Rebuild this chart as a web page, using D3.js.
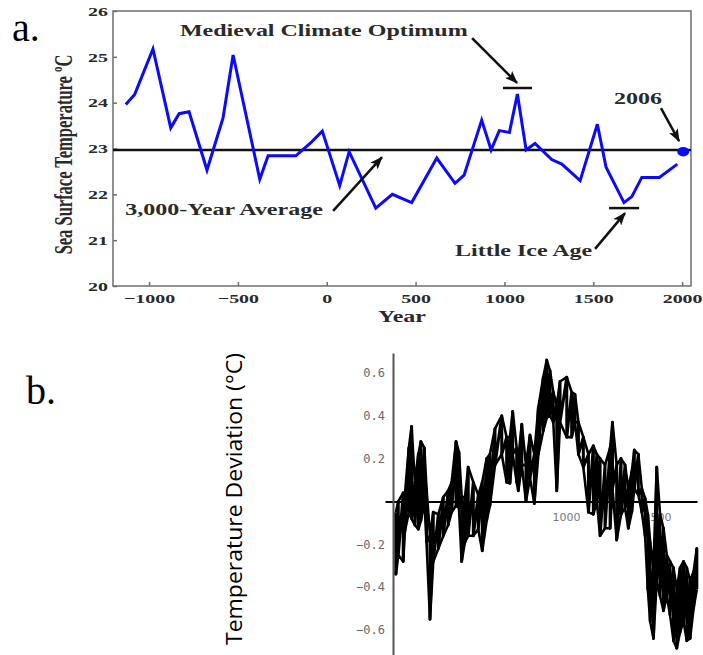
<!DOCTYPE html>
<html>
<head>
<meta charset="utf-8">
<script src="https://cdn.jsdelivr.net/npm/d3@7"></script>
<style>
  html, body { margin: 0; padding: 0; background: #fff; }
  svg { display: block; }
</style>
</head>
<body>
<svg id="chart" width="703" height="655"></svg>
<script>
// panel a: sea surface temperature, 3000 years
const sstYears = [-1131, -1081, -978, -878, -831, -775, -674, -584, -527, -377, -330, -174, -94, -25, 73, 126, 276, 369, 478, 619, 722, 773, 872, 925, 971, 1028, 1073, 1122, 1172, 1266, 1323, 1426, 1523, 1572, 1673, 1717, 1773, 1872, 1973]
const sstTemps = [23.96, 24.18, 25.17, 23.45, 23.76, 23.80, 22.53, 23.66, 25.04, 22.33, 22.84, 22.84, 23.11, 23.38, 22.19, 22.93, 21.70, 22.00, 21.82, 22.79, 22.24, 22.42, 23.62, 22.97, 23.39, 23.35, 24.19, 22.97, 23.11, 22.76, 22.66, 22.30, 23.53, 22.59, 21.82, 21.95, 22.37, 22.37, 22.66]
const sstAverage = 22.97
const sstLatest = { year: 2006, temp: 22.93 }
const sstXTicks = [-1000, -500, 0, 500, 1000, 1500, 2000]
const sstYTicks = [20, 21, 22, 23, 24, 25, 26]

// panel b: temperature deviation, upper and lower edge of the bundle of curves
const devYears = [66, 79, 106, 115, 137, 152, 170, 189, 203, 222, 234, 253, 271, 299, 326, 353, 372, 396, 412, 427, 445, 463, 491, 518, 540, 564, 582, 610, 647, 674, 692, 707, 729, 738, 757, 780, 802, 826, 848, 875, 894, 912, 930, 949, 967, 1004, 1031, 1049, 1068, 1095, 1123, 1150, 1169, 1187, 1214, 1242, 1255, 1278, 1302, 1324, 1342, 1361, 1375, 1397, 1416, 1434, 1449, 1462, 1480, 1498, 1516, 1535, 1553, 1571, 1590, 1608, 1626, 1645, 1663, 1681, 1700, 1718]
const devHigh = [-0.05, 0.00, 0.04, 0.03, 0.25, 0.35, 0.09, 0.22, 0.28, 0.25, 0.06, -0.16, -0.05, -0.06, 0.02, 0.05, 0.09, 0.28, 0.23, 0.02, 0.02, 0.16, 0.09, 0.03, 0.09, 0.20, 0.22, 0.34, 0.40, 0.30, 0.30, 0.42, 0.25, 0.20, 0.36, 0.17, 0.31, 0.22, 0.44, 0.58, 0.66, 0.61, 0.51, 0.45, 0.56, 0.58, 0.51, 0.50, 0.37, 0.30, 0.22, 0.26, 0.22, 0.20, 0.17, 0.25, 0.37, 0.17, 0.20, 0.17, 0.06, 0.14, 0.24, 0.22, 0.06, 0.015, -0.06, -0.19, -0.31, 0.16, -0.06, -0.125, -0.25, -0.28, -0.31, -0.41, -0.31, -0.28, -0.31, -0.37, -0.33, -0.22]
const devLow = [-0.34, -0.25, -0.28, -0.14, -0.05, -0.08, -0.11, -0.13, -0.09, 0.00, -0.19, -0.55, -0.28, -0.22, -0.16, -0.11, -0.05, -0.02, -0.03, -0.28, -0.19, -0.16, -0.16, -0.13, -0.23, -0.09, -0.02, 0.17, 0.22, 0.09, 0.085, 0.22, 0.09, 0.05, 0.17, 0.00, 0.11, -0.01, 0.22, 0.33, 0.39, 0.40, 0.37, 0.05, 0.37, 0.30, 0.30, 0.37, 0.22, 0.16, -0.05, -0.06, 0.00, -0.16, -0.125, -0.125, 0.06, -0.18, -0.06, -0.03, -0.125, -0.05, 0.06, 0.03, -0.05, -0.16, -0.41, -0.56, -0.64, -0.37, -0.44, -0.51, -0.44, -0.53, -0.65, -0.685, -0.61, -0.56, -0.65, -0.64, -0.50, -0.41]
const devYTicks = [-0.6, -0.4, -0.2, 0.2, 0.4, 0.6]
const devXTicks = [500, 1000, 1500]

const svg = d3.select('#chart')
const SERIF = '"Liberation Serif", "Times New Roman", serif'
const STRETCH = 1.5 // panel a text is drawn wide in the source

svg.append('defs').append('marker')
  .attr('id', 'arrow')
  .attr('markerUnits', 'userSpaceOnUse')
  .attr('markerWidth', 14)
  .attr('markerHeight', 10)
  .attr('refX', 12)
  .attr('refY', 5)
  .attr('orient', 'auto')
  .append('path')
  .attr('d', 'M0,0 L13,5 L0,10 L3,5 z')
  .attr('fill', '#111')

const drawPanelA = () => {
  const x = d3.scaleLinear().domain([-1203, 2050]).range([113, 691])
  const y = d3.scaleLinear().domain([20, 26]).range([286, 11])
  const g = svg.append('g')

  const xAxis = g.append('g')
    .attr('transform', `translate(0,${y(20)})`)
    .call(d3.axisBottom(x).tickValues(sstXTicks).tickFormat(d3.format('d')).tickSizeInner(-4).tickSizeOuter(0).tickPadding(7.5))
  const yAxis = g.append('g')
    .attr('transform', `translate(${x.range()[0]},0)`)
    .call(d3.axisLeft(y).tickValues(sstYTicks).tickFormat(d3.format('d')).tickSizeInner(-4).tickSizeOuter(0).tickPadding(3.4))

  ;[xAxis, yAxis].forEach((ax) => {
    ax.select('.domain').remove()
    ax.selectAll('line').attr('stroke', '#6e6e6e').attr('stroke-width', 1.5)
    ax.selectAll('text')
      .attr('font-family', SERIF)
      .attr('font-weight', 'bold')
      .attr('font-size', 13.3)
      .attr('fill', '#2a2a2a')
      .attr('transform', `scale(${STRETCH},1)`)
  })

  g.append('rect')
    .attr('x', x.range()[0])
    .attr('y', y.range()[1])
    .attr('width', x.range()[1] - x.range()[0])
    .attr('height', y.range()[0] - y.range()[1])
    .attr('fill', 'none')
    .attr('stroke', '#6e6e6e')
    .attr('stroke-width', 1.5)

  // 3000 year average
  g.append('line')
    .attr('x1', x.range()[0]).attr('x2', x.range()[1])
    .attr('y1', y(sstAverage)).attr('y2', y(sstAverage))
    .attr('stroke', '#111').attr('stroke-width', 2.5)

  const line = d3.line().x((d, i) => x(sstYears[i])).y((d) => y(d))
  g.append('path')
    .datum(sstTemps)
    .attr('d', line)
    .attr('fill', 'none')
    .attr('stroke', '#0a0aff')
    .attr('stroke-width', 3)
    .attr('stroke-linejoin', 'miter')

  g.append('ellipse')
    .attr('cx', x(sstLatest.year)).attr('cy', y(sstLatest.temp))
    .attr('rx', 6).attr('ry', 4.8)
    .attr('fill', '#0a0aff')

  // annotations, placed in data units
  const label = (text, yr, t) => {
    g.append('text')
      .attr('transform', `translate(${x(yr)},${y(t)}) scale(${STRETCH},1)`)
      .attr('font-family', SERIF)
      .attr('font-weight', 'bold')
      .attr('font-size', 16)
      .attr('fill', '#2a2a2a')
      .text(text)
  }
  const arrow = (y0, t0, y1, t1) => {
    g.append('line')
      .attr('x1', x(y0)).attr('y1', y(t0))
      .attr('x2', x(y1)).attr('y2', y(t1))
      .attr('stroke', '#111').attr('stroke-width', 2.5)
      .attr('marker-end', 'url(#arrow)')
  }
  const bar = (y0, y1, t) => {
    g.append('line')
      .attr('x1', x(y0)).attr('x2', x(y1))
      .attr('y1', y(t)).attr('y2', y(t))
      .attr('stroke', '#111').attr('stroke-width', 2.5)
  }

  label('Medieval Climate Optimum', -826, 25.45)
  arrow(818, 25.41, 1071, 24.43)
  bar(992, 1155, 24.32)

  label('2006', 1617, 23.97)
  arrow(1881, 23.88, 1983, 23.16)

  label('3,000-Year Average', -1134, 21.55)
  arrow(36, 21.64, 311, 22.81)

  label('Little Ice Age', 722, 20.65)
  arrow(1510, 20.81, 1679, 21.59)
  bar(1589, 1758, 21.70)

  g.append('text')
    .attr('transform', `translate(72,${(y.range()[0] + y.range()[1]) / 2 + 6}) scale(${STRETCH},1) rotate(-90)`)
    .attr('text-anchor', 'middle')
    .attr('font-family', SERIF)
    .attr('font-weight', 'bold')
    .attr('font-size', 16.5)
    .attr('fill', '#2a2a2a')
    .text('Sea Surface Temperature \u00baC')

  g.append('text')
    .attr('transform', `translate(${(x.range()[0] + x.range()[1]) / 2},322) scale(${STRETCH},1)`)
    .attr('text-anchor', 'middle')
    .attr('font-family', SERIF)
    .attr('font-weight', 'bold')
    .attr('font-size', 16)
    .attr('fill', '#2a2a2a')
    .text('Year')
}

const drawPanelB = () => {
  const x = d3.scaleLinear().domain([6, 1719]).range([385, 697])
  const y = d3.scaleLinear().domain([-0.717, 0.693]).range([655, 353])
  const g = svg.append('g')

  const xAxis = g.append('g')
    .attr('transform', `translate(0,${y(0)})`)
    .call(d3.axisBottom(x).tickValues(devXTicks).tickFormat(d3.format('d')).tickSize(0).tickPadding(12))
  xAxis.select('.domain').attr('stroke', '#000').attr('stroke-width', 2)
  xAxis.selectAll('text')
    .attr('font-family', '"DejaVu Sans", sans-serif')
    .attr('font-size', 11)
    .attr('fill', '#7a7a7a')

  const yAxis = g.append('g')
    .attr('transform', 'translate(393,0)')
    .call(d3.axisLeft(y).tickValues(devYTicks).tickFormat(d3.format('.1f')).tickSize(0).tickPadding(8))
  yAxis.select('.domain').attr('stroke', '#555').attr('stroke-width', 2)
  yAxis.selectAll('text')
    .attr('font-family', '"DejaVu Sans Mono", monospace')
    .attr('font-size', 12)
    .attr('fill', '#6a6a6a')

  // the bundle of curves: both edges, plus strokes running between them
  const sx = (i) => x(devYears[i])
  const scribble = d3.path()
  devYears.forEach((yr, i) => {
    if (i === 0) scribble.moveTo(sx(i), y(devHigh[i]))
    else scribble.lineTo(sx(i), y(devHigh[i]))
    scribble.lineTo(sx(i), y(devLow[i]))
  })
  g.append('path')
    .attr('d', scribble.toString())
    .attr('fill', 'none')
    .attr('stroke', '#000')
    .attr('stroke-width', 3)
    .attr('stroke-linejoin', 'round')

  const edge = (values) => d3.line().x((d, i) => sx(i)).y((d) => y(d))(values)
  ;[devHigh, devLow].forEach((values) => {
    g.append('path')
      .attr('d', edge(values))
      .attr('fill', 'none')
      .attr('stroke', '#000')
      .attr('stroke-width', 2.6)
      .attr('stroke-linejoin', 'round')
  })

  g.append('text')
    .attr('transform', `translate(242,${(353 + 645) / 2}) rotate(-90)`)
    .attr('text-anchor', 'middle')
    .attr('font-family', '"Open Sans", sans-serif')
    .attr('font-size', 21)
    .attr('textLength', 292)
    .attr('lengthAdjust', 'spacingAndGlyphs')
    .attr('fill', '#000')
    .text('Temperature Deviation (\u00b0C)')
}

drawPanelA()
drawPanelB()

// panel letters
svg.append('text').attr('x', 12).attr('y', 41)
  .attr('font-family', SERIF).attr('font-size', 40).attr('fill', '#000').text('a.')
svg.append('text').attr('x', 26).attr('y', 404)
  .attr('font-family', SERIF).attr('font-size', 40).attr('fill', '#000').text('b.')
</script>
</body>
</html>
